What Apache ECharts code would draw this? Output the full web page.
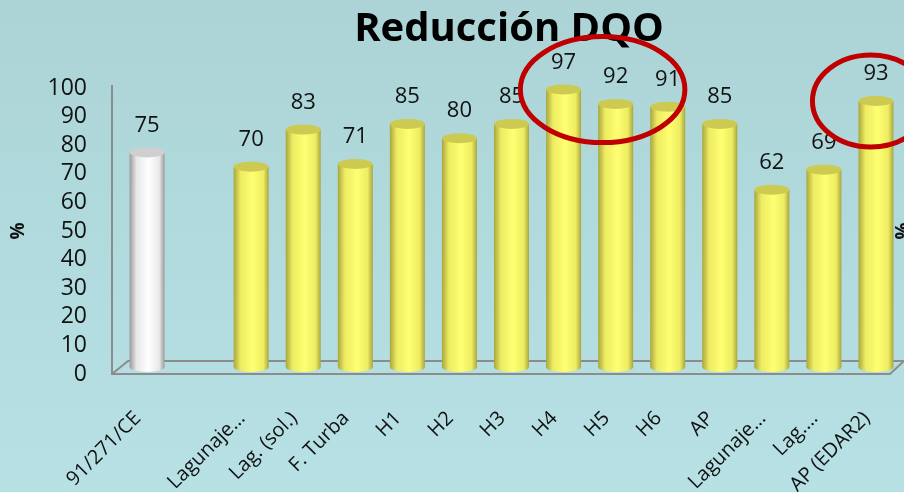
<!DOCTYPE html>
<html>
<head>
<meta charset="utf-8">
<script src="https://cdn.jsdelivr.net/npm/echarts@6/dist/echarts.min.js"></script>
<style>
  html, body { margin: 0; padding: 0; }
  #chart { width: 904px; height: 492px; }
</style>
</head>
<body>
<div id="chart"></div>
<script>
// categories (the blank one is the gap after the directive)
const categories = ['91/271/CE', '', 'Lagunaje…', 'Lag. (sol.)', 'F. Turba', 'H1', 'H2', 'H3', 'H4', 'H5', 'H6', 'AP', 'Lagunaje…', 'Lag.…', 'AP (EDAR2)']
const reduction = [75, null, 70, 83, 71, 85, 80, 85, 97, 92, 91, 85, 62, 69, 93]
const yTicks = [0, 10, 20, 30, 40, 50, 60, 70, 80, 90, 100]

const FONT = '"Open Sans", sans-serif'
const TEXT = '#111'

function cylinder(edge, mid, center) {
  return new echarts.graphic.LinearGradient(0, 0, 1, 0, [
    { offset: 0, color: edge },
    { offset: 0.2, color: mid },
    { offset: 0.55, color: center },
    { offset: 0.85, color: mid },
    { offset: 1, color: edge }
  ])
}
const yellowBody = cylinder('#a9a63c', '#eeec62', '#ffff72')
const whiteBody = cylinder('#9a9a9a', '#e8e8e8', '#ffffff')

const bodyData = reduction.map((v, i) => ({
  value: v,
  itemStyle: { color: i === 0 ? whiteBody : yellowBody }
}))
const capData = reduction.map((v, i) => ({
  value: v,
  itemStyle: { color: i === 0 ? '#cfcfcf' : '#cdca52' }
}))

const chart = echarts.init(document.getElementById('chart'))

chart.setOption({
  backgroundColor: new echarts.graphic.LinearGradient(0, 0, 0, 1, [
    { offset: 0, color: '#acd4d7' },
    { offset: 1, color: '#b7e1e5' }
  ]),
  animation: false,
  title: {
    text: 'Reducción DQO',
    left: 504,
    top: 5,
    textAlign: 'center',
    textStyle: { fontFamily: FONT, fontWeight: 'bold', fontSize: 40, color: '#000' }
  },
  grid: [
    { left: 121, right: 2, top: 88, bottom: 118, outerBoundsMode: 'none' },
    // bars sit a little deeper in the 3D box, so they are drawn a few px higher
    { left: 121, right: 2, top: 81, bottom: 125, outerBoundsMode: 'none' }
  ],
  xAxis: [{
    gridIndex: 0,
    type: 'category',
    data: categories,
    axisLine: { show: false },
    axisTick: { show: false },
    axisLabel: {
      interval: 0,
      rotate: 45,
      margin: 32,
      padding: [0, 13, 0, 0],
      fontFamily: FONT,
      fontSize: 20,
      color: TEXT
    }
  }, {
    gridIndex: 1,
    type: 'category',
    data: categories,
    show: false
  }],
  yAxis: [{
    gridIndex: 0,
    type: 'value',
    min: yTicks[0],
    max: yTicks[yTicks.length - 1],
    interval: 10,
    name: '%',
    nameLocation: 'middle',
    nameGap: 93,
    nameTextStyle: { fontFamily: FONT, fontWeight: 'bold', fontSize: 19, color: TEXT },
    axisLine: { show: false },
    axisTick: { show: false },
    splitLine: { show: false },
    axisLabel: { margin: 34, fontFamily: FONT, fontSize: 23, color: TEXT }
  }, {
    gridIndex: 0,
    type: 'value',
    position: 'right',
    min: 0,
    max: 100,
    name: '%',
    nameLocation: 'middle',
    nameGap: -8,
    nameRotate: 90,
    nameTextStyle: { fontFamily: FONT, fontWeight: 'bold', fontSize: 19, color: TEXT },
    axisLine: { show: false },
    axisTick: { show: false },
    axisLabel: { show: false },
    splitLine: { show: false }
  }, {
    gridIndex: 1,
    type: 'value',
    min: 0,
    max: 100,
    show: false
  }],
  series: [{
    name: 'bottom',
    type: 'pictorialBar',
    xAxisIndex: 1,
    yAxisIndex: 2,
    symbol: 'circle',
    symbolSize: [35, 10],
    symbolPosition: 'start',
    symbolOffset: [0, '50%'],
    data: bodyData,
    z: 1
  }, {
    name: 'Reducción DQO',
    type: 'bar',
    xAxisIndex: 1,
    yAxisIndex: 2,
    barWidth: 35,
    data: bodyData,
    z: 2,
    label: {
      show: true,
      position: 'top',
      distance: 16,
      fontFamily: FONT,
      fontSize: 22,
      color: TEXT
    }
  }, {
    name: 'top',
    type: 'pictorialBar',
    xAxisIndex: 1,
    yAxisIndex: 2,
    symbol: 'circle',
    symbolSize: [35, 10],
    symbolPosition: 'end',
    symbolOffset: [0, '-50%'],
    data: capData,
    z: 3
  }]
})

// 3D box (wall + floor) and the two red highlight rings
const front = chart.convertToPixel({ gridIndex: 0 }, [0, 0])
const top100 = chart.convertToPixel({ gridIndex: 0 }, [0, 100])
const last = chart.convertToPixel({ gridIndex: 0 }, [categories.length - 1, 0])
const band = chart.convertToPixel({ gridIndex: 0 }, [1, 0])[0] - front[0]
const leftX = front[0] - band / 2 - 9
const rightX = last[0] + band / 2
const depth = 13

function ringCenter(idx, offsetBands, value) {
  const p = chart.convertToPixel({ gridIndex: 1 }, [idx, value])
  return [p[0] + offsetBands * band, p[1]]
}
const ring1 = ringCenter(8, 0.75, 97)
const ring2 = ringCenter(14, -0.1, 93)

chart.setOption({
  graphic: [{
    type: 'polyline',
    z: 0,
    silent: true,
    shape: {
      points: [
        [leftX, top100[1] - 3],
        [leftX, front[1]],
        [rightX - 12, front[1]],
        [rightX + 2, front[1] - depth],
        [leftX + 16, front[1] - depth],
        [leftX, front[1]]
      ]
    },
    style: { stroke: '#8c8c8c', lineWidth: 2, fill: null }
  }, {
    type: 'ellipse',
    z: 100,
    silent: true,
    shape: { cx: ring1[0], cy: ring1[1], rx: band * 1.58, ry: 53 },
    style: { stroke: '#c00000', lineWidth: 5, fill: null }
  }, {
    type: 'ellipse',
    z: 100,
    silent: true,
    shape: { cx: ring2[0], cy: ring2[1], rx: band * 1.12, ry: 46 },
    style: { stroke: '#c00000', lineWidth: 5, fill: null }
  }]
})
</script>
</body>
</html>
